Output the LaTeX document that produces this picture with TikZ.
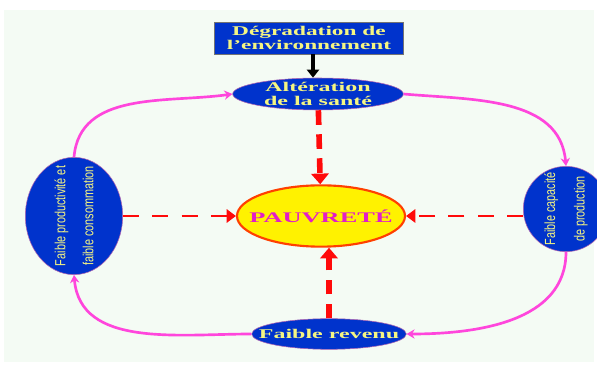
\documentclass[tikz,border=0pt]{standalone}
\usepackage{fontspec}
\setmainfont{Liberation Serif}
\setsansfont{Liberation Sans}
\usepackage{xcolor}
\usepackage{graphicx}
\usetikzlibrary{arrows.meta,positioning,shapes.geometric}
\definecolor{fondvert}{RGB}{244,251,244}
\definecolor{bleucycle}{RGB}{0,51,204}
\definecolor{jaunepale}{RGB}{245,245,130}
\definecolor{rose}{RGB}{255,70,220}
\definecolor{rougevif}{RGB}{255,10,10}
\definecolor{textemag}{RGB}{225,30,200}
\newcommand{\etire}[2]{\makebox[0pt]{\scalebox{#1}[1]{#2}}}

\begin{document}
\begin{tikzpicture}[
    x=0.75pt, y=-0.75pt,
    bloc/.style={draw=black!55, fill=bleucycle, text=jaunepale, minimum width=142pt, minimum height=24pt, inner sep=1pt, align=center, font=\bfseries\fontsize{10}{10.5}\selectfont},
    bulle/.style={ellipse, draw=violet!60, fill=bleucycle, text=jaunepale, inner sep=0pt, align=center, font=\bfseries\fontsize{10}{10.5}\selectfont},
    texteV/.style={rotate=90, text=jaunepale, inner sep=0pt, align=center, font=\sffamily\fontsize{11}{12}\selectfont},
    centre/.style={ellipse, draw=orange!50!red, line width=1.6pt, fill=yellow, text=textemag, inner sep=0pt, font=\bfseries\fontsize{11}{12}\selectfont},
    cycle/.style={-{Stealth[length=6pt,width=7pt]}, line width=2pt, draw=rose},
    versP/.style={-{Triangle[length=8pt,width=13pt]}, line width=4.2pt, draw=rougevif, dash pattern=on 11pt off 7pt},
    versPh/.style={-{Triangle[length=7pt,width=10pt]}, line width=2pt, draw=rougevif, dash pattern=on 12pt off 10pt},
    cause/.style={-{Triangle[length=6pt,width=9pt]}, line width=3pt, draw=black}
  ]
    \useasboundingbox (0,0) rectangle (597,367);
    \fill[fondvert] (4,10) rectangle (594,362);

    \node[bloc] (degrad) at (309,38) {\etire{1.75}{Dégradation de}\\\etire{1.75}{l’environnement}};
    \node[bulle, minimum width=128pt, minimum height=24pt, inner ysep=-2pt] (sante) at (318,94) {\etire{1.8}{Altération}\\\etire{1.8}{de la santé}};
    \node[centre, minimum width=126pt, minimum height=46pt] (pauvre) at (321,216) {\etire{1.8}{PAUVRETÉ}};
    \node[bulle, minimum width=73pt, minimum height=88pt] (produc) at (74,216) {};
    \node[texteV] (produc-t) at (produc) {\etire{0.74}{Faible productivité et}\\[9pt]\etire{0.74}{faible consommation}};
    \node[bulle, minimum width=64pt, minimum height=64pt] (capac) at (566,209) {};
    \node[texteV] (capac-t) at (capac) {\etire{0.74}{Faible capacité}\\[10pt]\etire{0.74}{de production}};
    \node[bulle, minimum width=116pt, minimum height=23pt] (revenu) at (329,334) {\etire{1.8}{Faible revenu}};

    \draw[cause] ([xshift=3pt]degrad.south) -- ([xshift=3pt]degrad.south |- sante.north);
    % le cercle vicieux
    \draw[cycle] (produc.north) to[out=85, in=188] (sante.west);
    \draw[cycle] (sante.east) to[out=-5, in=95] (capac.north);
    \draw[cycle] (capac.south) to[out=-90, in=0] (revenu.east);
    \draw[cycle] (revenu.west) to[out=180, in=-85] (produc.south);
    % vers la pauvrete
    \draw[versP] (sante) -- (pauvre);
    \draw[versP] (revenu) -- (pauvre.south -| revenu);
    \draw[versPh] (produc) -- (pauvre);
    \draw[versPh] (capac.west |- pauvre) -- (pauvre);
  \end{tikzpicture}
\end{document}
